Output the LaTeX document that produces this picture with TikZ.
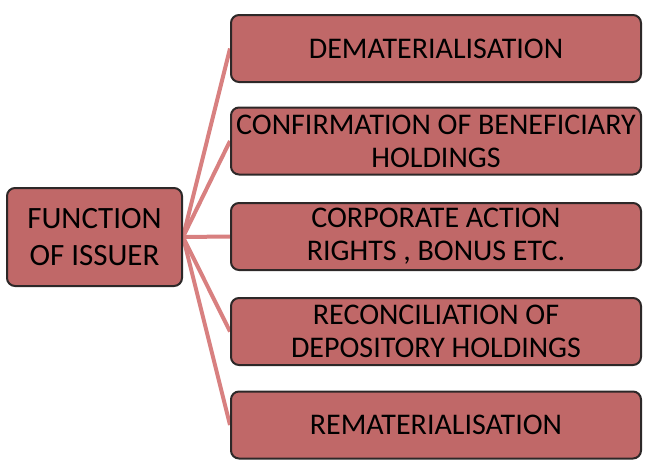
\documentclass[tikz,border=0pt]{standalone}
\usepackage{fontspec}
\setmainfont{Carlito}
\usepackage{tikz}
\usetikzlibrary{positioning,backgrounds}

\definecolor{boxred}{RGB}{192,104,104}
\definecolor{linkred}{RGB}{216,128,128}
\definecolor{edgegray}{RGB}{45,40,40}

\tikzset{
  funcbox/.style={draw=edgegray, line width=2pt, fill=boxred, rounded corners=8pt,
    minimum width=410pt, minimum height=67pt, align=center, inner sep=0pt,
    font=\fontsize{30}{33}\selectfont},
  rootbox/.style={funcbox, minimum width=175pt, minimum height=98pt,
    font=\fontsize{31}{37}\selectfont},
  link/.style={draw=linkred, line width=4pt}
}

\begin{document}
\begin{tikzpicture}[x=1pt, y=-1pt]
\useasboundingbox (0,0) rectangle (649,461);

\node[rootbox] (issuer) at (94.5,237) {FUNCTION\\OF ISSUER};

\node[funcbox] (demat) at (436,48.5) {DEMATERIALISATION};
\node[funcbox] (confirm) at (436,141) {CONFIRMATION OF BENEFICIARY\\HOLDINGS};
\node[funcbox] (corp) at (436,236.5) {CORPORATE ACTION\\RIGHTS , BONUS ETC.};
\node[funcbox] (recon) at (436,331.5) {RECONCILIATION OF\\DEPOSITORY HOLDINGS};
\node[funcbox] (remat) at (436,425) {REMATERIALISATION};

% links behind the boxes
\begin{scope}[on background layer]
\foreach \t in {demat,confirm,corp,recon,remat}
  \draw[link] (issuer.east) -- (\t.west);
\end{scope}
\end{tikzpicture}
\end{document}
